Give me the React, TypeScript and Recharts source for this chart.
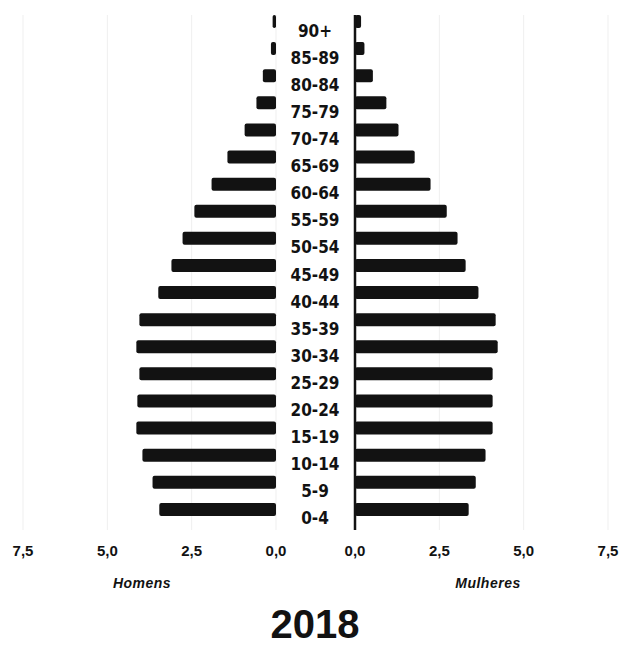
import React from 'react';
import { BarChart, Bar, XAxis, YAxis, CartesianGrid, Rectangle } from 'recharts';

const ageGroups = ['90+', '85-89', '80-84', '75-79', '70-74', '65-69', '60-64', '55-59', '50-54', '45-49', '40-44', '35-39', '30-34', '25-29', '20-24', '15-19', '10-14', '5-9', '0-4'];
const homens = [0.1, 0.15, 0.39, 0.58, 0.93, 1.44, 1.91, 2.42, 2.77, 3.1, 3.49, 4.05, 4.14, 4.05, 4.11, 4.14, 3.96, 3.66, 3.46];
const mulheres = [0.18, 0.28, 0.53, 0.93, 1.29, 1.77, 2.24, 2.72, 3.04, 3.28, 3.66, 4.17, 4.23, 4.08, 4.08, 4.08, 3.87, 3.58, 3.37];
const xTicks = [0, 2.5, 5, 7.5];
const leftLabel = 'Homens';
const rightLabel = 'Mulheres';
const title = '2018';

const data = ageGroups.map((age, i) => ({ age, homens: homens[i], mulheres: mulheres[i] }));

const sansFont = "'Liberation Sans', Arial, sans-serif";
const narrowFont = "'Liberation Sans Narrow', 'Arial Narrow', 'DejaVu Sans Condensed', sans-serif";
const ink = '#121212';

const fmt = (v: number) => v.toFixed(1).replace('.', ',');

const ShiftedBar = (props: any) => (
  <Rectangle
    x={props.x}
    y={props.y - 7}
    width={props.width}
    height={props.height}
    fill={props.fill}
    radius={2}
  />
);

const AgeTick = (props: any) => {
  const { x, y, payload } = props;
  return (
    <text
      x={x}
      y={y + 8}
      textAnchor="middle"
      fill={ink}
      fontSize={17}
      fontWeight={700}
      fontFamily={narrowFont}
    >
      {payload.value}
    </text>
  );
};

const xTickStyle = { fill: ink, fontSize: 15, fontWeight: 700, fontFamily: sansFont };

export default function App() {
  return (
    <div style={{ position: 'absolute', left: 0, top: 0, width: 623, height: 646, background: '#fff' }}>
      <div style={{ position: 'absolute', left: 0, top: 0 }}>
        <BarChart
          width={300}
          height={560}
          data={data}
          layout="vertical"
          margin={{ top: 15, right: 24, bottom: 0, left: 23 }}
          barCategoryGap={0}
        >
          <CartesianGrid horizontal={false} stroke="#efefef" />
          <XAxis
            type="number"
            domain={[0, 7.5]}
            ticks={xTicks}
            reversed
            axisLine={false}
            tickLine={false}
            tickSize={6}
            tickMargin={9}
            height={30}
            interval={0}
            tickFormatter={fmt}
            tick={xTickStyle}
          />
          <YAxis
            type="category"
            dataKey="age"
            orientation="right"
            width={0}
            tick={false}
            tickLine={false}
            axisLine={{ stroke: ink, strokeWidth: 2.5 }}
          />
          <Bar dataKey="homens" fill={ink} barSize={13} isAnimationActive={false} shape={ShiftedBar} />
        </BarChart>
      </div>
      <div style={{ position: 'absolute', left: 279, top: 0 }}>
        <BarChart
          width={344}
          height={560}
          data={data}
          layout="vertical"
          margin={{ top: 15, right: 15, bottom: 0, left: 0 }}
          barCategoryGap={0}
        >
          <CartesianGrid horizontal={false} stroke="#efefef" />
          <XAxis
            type="number"
            domain={[0, 7.5]}
            ticks={xTicks}
            axisLine={false}
            tickLine={false}
            tickSize={6}
            tickMargin={9}
            height={30}
            interval={0}
            tickFormatter={fmt}
            tick={xTickStyle}
          />
          <YAxis
            type="category"
            dataKey="age"
            orientation="left"
            width={76}
            tickSize={0}
            tickMargin={40}
            tickLine={false}
            interval={0}
            tick={<AgeTick />}
            axisLine={{ stroke: ink, strokeWidth: 2.5 }}
          />
          <Bar dataKey="mulheres" fill={ink} barSize={13} isAnimationActive={false} shape={ShiftedBar} />
        </BarChart>
      </div>
      <svg
        width={623}
        height={646}
        style={{ position: 'absolute', left: 0, top: 0, pointerEvents: 'none' }}
      >
        <text x={142} y={588} textAnchor="middle" fill={ink} fontSize={14} fontWeight={700} fontStyle="italic" fontFamily={sansFont} letterSpacing={0.5}>
          {leftLabel}
        </text>
        <text x={488} y={588} textAnchor="middle" fill={ink} fontSize={14} fontWeight={700} fontStyle="italic" fontFamily={sansFont} letterSpacing={0.5}>
          {rightLabel}
        </text>
        <text x={315} y={638} textAnchor="middle" fill={ink} fontSize={40} fontWeight={700} fontFamily={sansFont}>
          {title}
        </text>
      </svg>
    </div>
  );
}
